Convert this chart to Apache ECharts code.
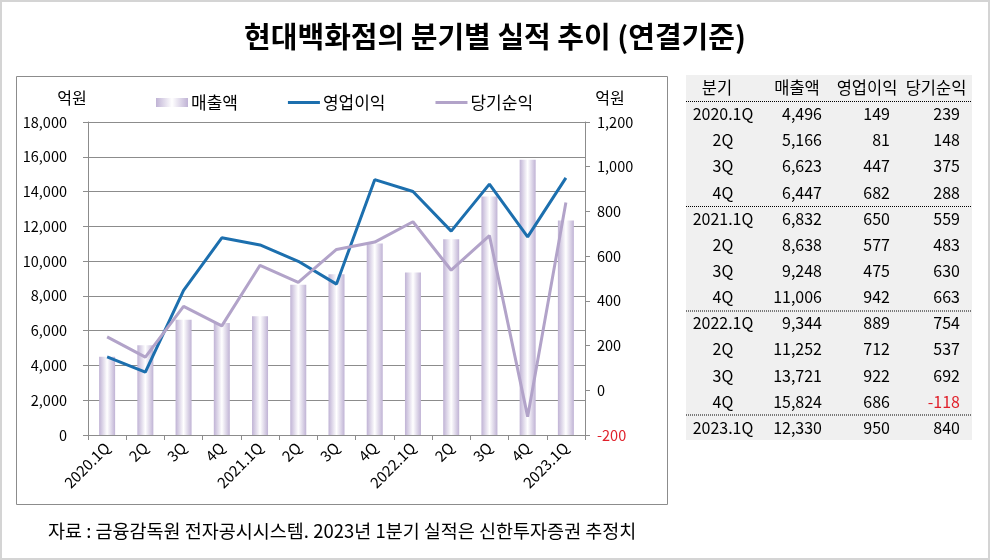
<!DOCTYPE html>
<html><head><meta charset="utf-8">
<script src="https://cdn.jsdelivr.net/npm/echarts@6/dist/echarts.min.js"></script>
<style>html,body{margin:0;padding:0;background:#fff}#c{width:990px;height:560px}</style>
</head><body><div id="c"></div>
<script>
const categories = ["2020.1Q","2Q","3Q","4Q","2021.1Q","2Q","3Q","4Q","2022.1Q","2Q","3Q","4Q","2023.1Q"];
const sales = [4496,5166,6623,6447,6832,8638,9248,11006,9344,11252,13721,15824,12330];
const opProfit = [149,81,447,682,650,577,475,942,889,712,922,686,950];
const netProfit = [239,148,375,288,559,483,630,663,754,537,692,-118,840];
const seriesNames = ["매출액","영업이익","당기순익"];
const tableHeader = ["분기","매출액","영업이익","당기순익"];
const titleText = "현대백화점의 분기별 실적 추이 (연결기준)";
const unitText = "억원";
const noteText = "자료 : 금융감독원 전자공시시스템. 2023년 1분기 실적은 신한투자증권 추정치";

const FONT = "'Noto Sans CJK KR', sans-serif";
const chart = echarts.init(document.getElementById('c'), null, {renderer:'canvas'});
const fmt = v => v.toLocaleString('en-US');

const graphics = [];
graphics.push({type:'rect', shape:{x:1,y:1,width:988,height:558}, style:{fill:null, stroke:'#d4d4d4', lineWidth:2}, silent:true});
graphics.push({type:'rect', shape:{x:16.5,y:76.5,width:651,height:428}, style:{fill:null, stroke:'#8c8c8c', lineWidth:1}, silent:true});
graphics.push({type:'rect', shape:{x:686,y:75,width:286,height:365}, style:{fill:'#f0f0f0'}, silent:true});
const colX = [723, 822, 890, 960];
const headX = [717, 797, 867, 936];
tableHeader.forEach((h,i)=>{
  graphics.push({type:'text', style:{text:h, x:headX[i], y:88, align:'center', verticalAlign:'middle', font:"16.5px "+FONT, fill:'#000'}});
});
const rowY0 = 114, rowStep = 26.15;
categories.forEach((c,i)=>{
  const y = rowY0 + i*rowStep;
  const f = "16px "+FONT;
  graphics.push({type:'text', style:{text:c, x:colX[0], y:y, align:'center', verticalAlign:'middle', font:f, fill:'#000'}});
  graphics.push({type:'text', style:{text:fmt(sales[i]), x:colX[1], y:y, align:'right', verticalAlign:'middle', font:f, fill:'#000'}});
  graphics.push({type:'text', style:{text:fmt(opProfit[i]), x:colX[2], y:y, align:'right', verticalAlign:'middle', font:f, fill:'#000'}});
  graphics.push({type:'text', style:{text:fmt(netProfit[i]), x:colX[3], y:y, align:'right', verticalAlign:'middle', font:f, fill: netProfit[i]<0 ? '#e0202a' : '#000'}});
});
[101.5, 206.5, 311, 415].forEach(y=>{
  graphics.push({type:'line', shape:{x1:686,y1:y,x2:972,y2:y}, style:{stroke:'#000', lineWidth:1, lineDash:[1,1]}, silent:true});
});
graphics.push({type:'text', style:{text:unitText, x:72, y:98, align:'center', verticalAlign:'middle', font:"16px "+FONT, fill:'#000'}});
graphics.push({type:'text', style:{text:unitText, x:610, y:98, align:'center', verticalAlign:'middle', font:"16px "+FONT, fill:'#000'}});
graphics.push({type:'text', style:{text:noteText, x:48, y:531, align:'left', verticalAlign:'middle', font:"18.5px "+FONT, fill:'#000'}});

const barGrad = new echarts.graphic.LinearGradient(0,0,1,0,[
  {offset:0,color:'#c0b3d5'},{offset:0.5,color:'#ffffff'},{offset:1,color:'#c0b3d5'}
]);
const lineIcon = 'path://M0,0H32V3H0Z';

chart.setOption({
  animation:false,
  textStyle:{fontFamily:FONT},
  title:{text:titleText, left:'center', top:17, textStyle:{fontSize:29, fontWeight:'bold', color:'#000', fontFamily:FONT}},
  legend:{
    top:89, left:151, itemGap:50, itemWidth:32, itemHeight:9,
    textStyle:{fontSize:17, color:'#000', fontFamily:FONT, padding:[0,0,0,-2]},
    data:[
      {name:seriesNames[0], icon:'rect'},
      {name:seriesNames[1], icon:lineIcon},
      {name:seriesNames[2], icon:lineIcon}
    ]
  },
  grid:{left:88, right:405, top:122, bottom:125, containLabel:false},
  xAxis:{
    type:'category', data:categories, boundaryGap:true,
    axisLine:{lineStyle:{color:'#8c8c8c'}},
    axisTick:{show:true, interval:0, length:5, lineStyle:{color:'#8c8c8c'}},
    axisLabel:{interval:0, rotate:45, fontSize:15, color:'#000', margin:10, fontFamily:FONT}
  },
  yAxis:[
    {type:'value', min:0, max:18000, interval:2000, position:'left',
     axisLine:{show:true, lineStyle:{color:'#8c8c8c'}},
     axisTick:{show:true, length:5, lineStyle:{color:'#8c8c8c'}},
     splitLine:{show:true, lineStyle:{color:'#8c8c8c', width:1}},
     axisLabel:{fontSize:14.5, color:'#000', margin:21, formatter:v=>fmt(v), fontFamily:FONT}},
    {type:'value', min:-200, max:1200, interval:200, position:'right',
     axisLine:{show:true, lineStyle:{color:'#8c8c8c'}},
     axisTick:{show:true, length:5, lineStyle:{color:'#8c8c8c'}},
     splitLine:{show:false},
     axisLabel:{fontSize:14.5, margin:12, fontFamily:FONT, formatter:v=>fmt(v),
       color:(v)=> Number(v)<0 ? '#e0202a' : '#000'}}
  ],
  series:[
    {name:seriesNames[0], type:'bar', data:sales, barWidth:16, yAxisIndex:0,
     itemStyle:{color:barGrad}},
    {name:seriesNames[1], type:'line', data:opProfit, yAxisIndex:1, symbol:'none',
     lineStyle:{color:'#1c6fae', width:3}, itemStyle:{color:'#1c6fae'}},
    {name:seriesNames[2], type:'line', data:netProfit, yAxisIndex:1, symbol:'none',
     lineStyle:{color:'#b2a3c9', width:3}, itemStyle:{color:'#b2a3c9'}}
  ],
  graphic:graphics
});
</script></body></html>
